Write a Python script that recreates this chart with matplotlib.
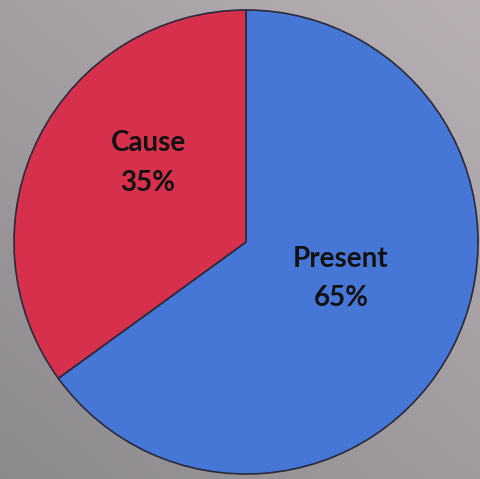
import matplotlib
matplotlib.use("Agg")
import matplotlib.pyplot as plt
import numpy as np

labels = ["Present", "Cause"]
values = [65, 35]
colors = ["#4676D6", "#D6304C"]
pct_text = ["65%", "35%"]

W, H = 480, 479
fig = plt.figure(figsize=(W / 100, H / 100), dpi=100)

# background gradient (photo-like gray)
bg = fig.add_axes([0, 0, 1, 1])
yy, xx = np.mgrid[0:1:200j, 0:1:200j]
t = 0.55 * yy + 0.45 * (1 - xx)
c0 = np.array([0.72, 0.69, 0.71])
c1 = np.array([0.55, 0.54, 0.55])
img = c0[None, None, :] * (1 - t[..., None]) + c1[None, None, :] * t[..., None]
bg.imshow(img, extent=[0, 1, 0, 1], aspect="auto", origin="upper")
bg.set_axis_off()

ax = fig.add_axes([0, 0, 1, 1])
ax.set_xlim(0, W)
ax.set_ylim(0, H)
ax.set_aspect("equal")
ax.set_axis_off()
ax.patch.set_alpha(0)

cx, cy, r = 246, H - 242, 232
wedges, _ = ax.pie(values, colors=colors, startangle=90, counterclock=False,
                   center=(cx, cy), radius=r,
                   wedgeprops=dict(edgecolor="#2a2a3a", linewidth=1.2))
ax.set_xlim(0, W)
ax.set_ylim(0, H)

font = dict(family=["Lato", "DejaVu Sans"], fontweight="bold", fontsize=20,
            color="#111111", ha="center", va="center")
ax.text(cx - 98, cy + 99, labels[1], **font)
ax.text(cx - 98, cy + 59, pct_text[1], **font)
ax.text(cx + 95, cy - 17, labels[0], **font)
ax.text(cx + 95, cy - 56, pct_text[0], **font)

fig.savefig("out.png", dpi=100)
